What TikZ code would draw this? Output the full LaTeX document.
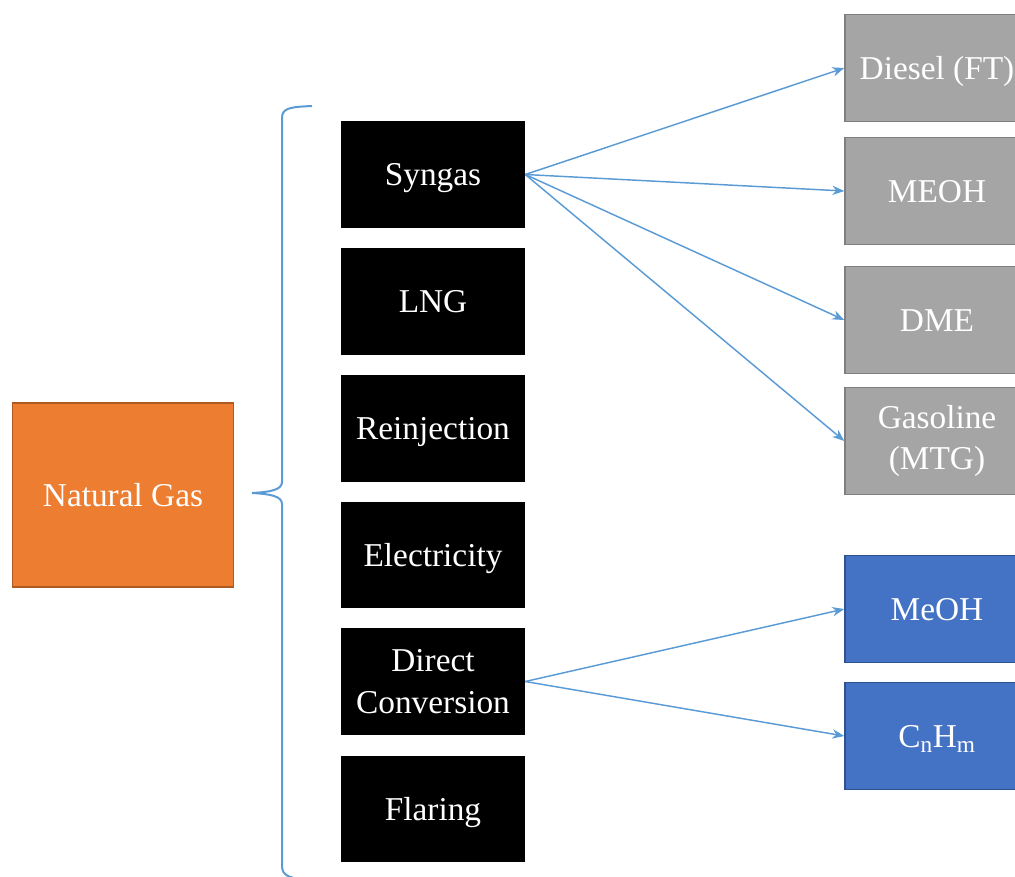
\documentclass[tikz,border=0pt]{standalone}
\usepackage{fontspec}
\setmainfont{Liberation Serif}
\usetikzlibrary{arrows.meta}
\definecolor{cam}{HTML}{ED7D31}
\definecolor{camvien}{HTML}{AE5A21}
\definecolor{xam}{HTML}{A5A5A5}
\definecolor{xamvien}{HTML}{7F7F7F}
\definecolor{lam}{HTML}{4472C4}
\definecolor{lamvien}{HTML}{2F528F}
\definecolor{muiten}{HTML}{5B9BD5}
\begin{document}
\begin{tikzpicture}[x=0.75pt,y=-0.75pt,
		hop/.style={minimum width=138pt,minimum height=80pt,inner sep=0pt,align=center,text=white,font=\fontsize{25}{31}\selectfont},
		dong/.style={text height=22.3pt,text depth=5.4pt},
		hopden/.style={hop,fill=black},
		hopxam/.style={hop,fill=xam,draw=xamvien,line width=1pt},
		hoplam/.style={hop,fill=lam,draw=lamvien,line width=1pt},
		noi/.style={draw=muiten,line width=1.1pt,-{Stealth[length=9pt,width=7pt]}}]
				% Khung
				\clip (0,0) rectangle (1015,876);
				
				% Nguồn
				\node[hop,dong,fill=cam,draw=camvien,line width=1pt,minimum width=166pt,minimum height=138pt] (gas) at (123,495) {Natural Gas};
				
				% Dấu ngoặc
				\draw[muiten,line width=1.5pt] (312,106) .. controls (290,107) and (282,108) .. (282,118) -- (282,482)
					.. controls (282,490) and (270,492) .. (252,493) .. controls (270,494) and (282,496) .. (282,504)
					-- (282,866) .. controls (282,876) and (290,879) .. (312,880);
				
				% Các hướng sử dụng
				\node[hopden,dong] (syngas) at (433,174.5) {Syngas};
				\node[hopden,dong] (lng) at (433,301.5) {LNG};
				\node[hopden,dong] (reinj) at (433,428.5) {Reinjection};
				\node[hopden,dong] (elec) at (433,555) {Electricity};
				\node[hopden] (direct) at (433,681.5) {Direct\\Conversion};
				\node[hopden,dong] (flare) at (433,809) {Flaring};
				
				% Sản phẩm
				\node[hopxam,dong] (diesel) at (937,68) {Diesel (FT)};
				\node[hopxam,dong] (meohA) at (937,191) {MEOH};
				\node[hopxam,dong] (dme) at (937,320) {DME};
				\node[hopxam] (gasoline) at (937,441) {Gasoline\\(MTG)};
				\node[hoplam,dong] (meohB) at (937,609) {MeOH};
				\node[hoplam,dong] (cnhm) at (937,736) {C\textsubscript{n}H\textsubscript{m}};
				
				% Mũi tên
				\draw[noi] (syngas.east) -- (diesel.west);
				\draw[noi] (syngas.east) -- (meohA.west);
				\draw[noi] (syngas.east) -- (dme.west);
				\draw[noi] (syngas.east) -- (gasoline.west);
				\draw[noi] (direct.east) -- (meohB.west);
				\draw[noi] (direct.east) -- (cnhm.west);
			\end{tikzpicture}
\end{document}
